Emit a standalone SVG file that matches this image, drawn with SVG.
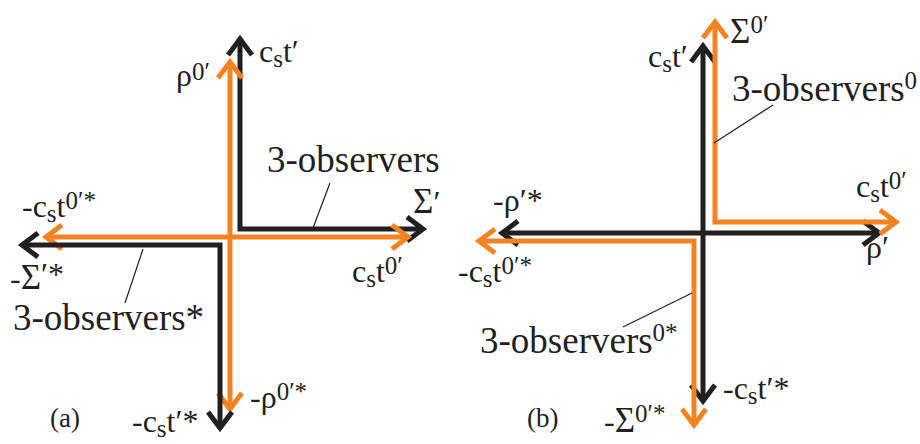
<svg xmlns="http://www.w3.org/2000/svg" width="920" height="444" viewBox="0 0 920 444">
<style>
text{font-family:'Liberation Serif','Times New Roman',serif;font-size:32px;fill:#231f20}
.big{font-size:37px}
.lab{font-size:27px}
.sg{font-size:35px}
.ss{font-size:25px}
.bk{fill:none;stroke:#231f20;stroke-width:5;stroke-linejoin:miter;marker-start:url(#mb);marker-end:url(#mb)}
.or{fill:none;stroke:#f58220;stroke-width:5;stroke-linejoin:miter;marker-start:url(#mo);marker-end:url(#mo)}
.ld{fill:none;stroke:#231f20;stroke-width:1.2}
</style>
<defs>
<marker id="mb" markerUnits="userSpaceOnUse" orient="auto-start-reverse" overflow="visible" markerWidth="1" markerHeight="1" refX="0" refY="0">
<path d="M-16,-12 L0,0 L-16,12" fill="none" stroke="#231f20" stroke-width="5"/>
</marker>
<marker id="mo" markerUnits="userSpaceOnUse" orient="auto-start-reverse" overflow="visible" markerWidth="1" markerHeight="1" refX="0" refY="0">
<path d="M-16,-12 L0,0 L-16,12" fill="none" stroke="#f58220" stroke-width="5"/>
</marker>
</defs>
<g id="connectors">
<path class="bk" d="M240,39 V229 H423"/>
<path class="or" d="M230,62 V409"/>
<path class="or" d="M46,237 H408"/>
<path class="bk" d="M22,245 H220 V428"/>
<line class="ld" x1="330" y1="183" x2="313" y2="228"/>
<line class="ld" x1="125" y1="303" x2="143" y2="249"/>
<path class="bk" d="M703,46 V401"/>
<path class="bk" d="M502,233 H879"/>
<path class="or" d="M715,22 V222 H896"/>
<path class="or" d="M479,241 H694 V425"/>
<line class="ld" x1="773" y1="105" x2="714" y2="143"/>
<line class="ld" x1="623" y1="327" x2="692" y2="293"/>
</g>
<g id="panel-a-labels">
<text x="259" y="62">c<tspan class="ss" dy="5">s</tspan><tspan dy="-5">t′</tspan></text>
<text x="176" y="86">ρ<tspan class="ss" dy="-6">0′</tspan></text>
<text class="big" x="267" y="172">3-observers</text>
<text x="413" y="213"><tspan class="sg">Σ</tspan>′</text>
<text x="22" y="217">-c<tspan class="ss" dy="5">s</tspan><tspan dy="-5">t</tspan><tspan class="ss" dy="-8">0′*</tspan></text>
<text x="10" y="289">-<tspan class="sg">Σ</tspan><tspan dy="-4">′*</tspan></text>
<text class="big" x="13" y="330">3-observers*</text>
<text x="352" y="282">c<tspan class="ss" dy="5">s</tspan><tspan dy="-5">t</tspan><tspan class="ss" dy="-8">0′</tspan></text>
<text x="250" y="408">-ρ<tspan class="ss" dy="-8">0′*</tspan></text>
<text class="lab" x="50" y="427">(a)</text>
<text x="132" y="432">-c<tspan class="ss" dy="5">s</tspan><tspan dy="-5">t′*</tspan></text>
</g>
<g id="panel-b-labels">
<text x="730" y="43"><tspan class="sg">Σ</tspan><tspan class="ss" dy="-10">0′</tspan></text>
<text x="648" y="67">c<tspan class="ss" dy="5">s</tspan><tspan dy="-5">t′</tspan></text>
<text class="big" x="732" y="101">3-observers<tspan class="ss" dy="-12">0</tspan></text>
<text x="856" y="197">c<tspan class="ss" dy="5">s</tspan><tspan dy="-5">t</tspan><tspan class="ss" dy="-8">0′</tspan></text>
<text x="493" y="211">-ρ′*</text>
<text x="866" y="258">ρ′</text>
<text x="458" y="282">-c<tspan class="ss" dy="5">s</tspan><tspan dy="-5">t</tspan><tspan class="ss" dy="-8">0′*</tspan></text>
<text class="big" x="480" y="353">3-observers<tspan class="ss" dy="-12">0*</tspan></text>
<text x="723" y="399">-c<tspan class="ss" dy="5">s</tspan><tspan dy="-5">t′*</tspan></text>
<text class="lab" x="527" y="427">(b)</text>
<text x="604" y="432">-<tspan class="sg">Σ</tspan><tspan class="ss" dy="-10">0′*</tspan></text>
</g>
</svg>
